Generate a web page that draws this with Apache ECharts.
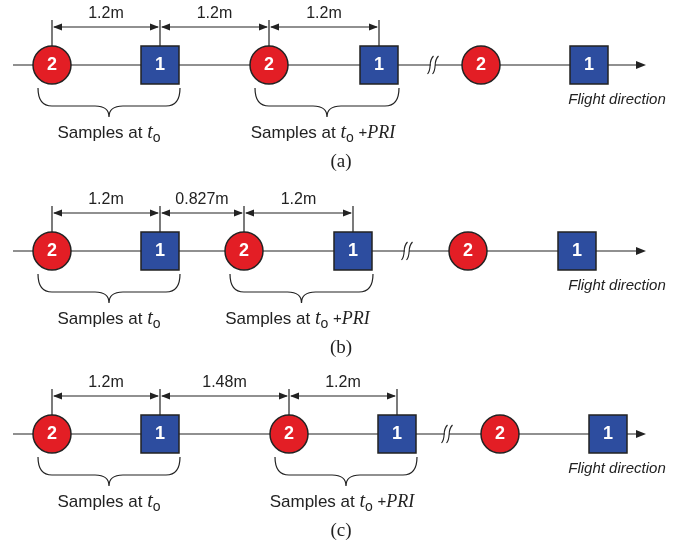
<!DOCTYPE html>
<html><head><meta charset="utf-8"><title>flight-samples</title>
<style>html,body{margin:0;background:#fff}#chart{width:687px;height:548px}</style>
</head><body>
<div id="chart"></div>
<script src="https://cdn.jsdelivr.net/npm/echarts@6/dist/echarts.min.js"></script>
<script>
const panelNames = ['(a)', '(b)', '(c)'];
const axisY = [65, 251, 434];
const circleX = [[52, 269, 481], [52, 244, 468], [52, 289, 500]];
const squareX = [[160, 379, 589], [160, 353, 577], [160, 397, 608]];
const breakX = [433, 407, 447];
const spacingLabels = [['1.2m', '1.2m', '1.2m'], ['1.2m', '0.827m', '1.2m'], ['1.2m', '1.48m', '1.2m']];
const groupLabels = ['Samples at {t|t}{o|o}', 'Samples at {t|t}{o|o} {p|+}{pri|PRI}'];
const directionLabel = 'Flight direction';

const ink = '#222';
const sans = '"Liberation Sans", Arial, sans-serif';
const serif = '"Liberation Serif", "Times New Roman", serif';

// series data built from the arrays above
const circles = [], squares = [], axes = [], dims = [], ticks = [], braces = [], breaks = [], texts = [];
panelNames.forEach((name, p) => {
  const y = axisY[p];
  circleX[p].forEach(x => circles.push([x, y]));
  squareX[p].forEach(x => squares.push([x, y]));
  axes.push([13, 646, y]);
  breaks.push([breakX[p], y]);
  const nodes = [circleX[p][0], squareX[p][0], circleX[p][1], squareX[p][1]];
  nodes.forEach(x => ticks.push([x, y - 45, y - 19]));
  for (let i = 0; i < 3; i++) {
    dims.push([nodes[i], nodes[i + 1], y - 38]);
    texts.push({ value: [(nodes[i] + nodes[i + 1]) / 2, y - 51], text: spacingLabels[p][i], kind: 'dim' });
  }
  for (let g = 0; g < 2; g++) {
    const x1 = circleX[p][g] - 14, x2 = squareX[p][g] + 20;
    braces.push([x1, x2, y + 23]);
    texts.push({ value: [(x1 + x2) / 2 - (g ? 4 : 0), y + 68], text: groupLabels[g], kind: 'group' });
  }
  texts.push({ value: [617, y + 35], text: directionLabel, kind: 'dir' });
  texts.push({ value: [341, y + 97], text: name, kind: 'panel' });
});

const textStyles = {
  dim: { fontSize: 16, fontFamily: sans },
  group: {
    fontSize: 17, fontFamily: sans, lineHeight: 24,
    rich: {
      t: { fontSize: 20, fontFamily: serif, fontStyle: 'italic', lineHeight: 24 },
      o: { fontSize: 14, fontFamily: sans, lineHeight: 12, verticalAlign: 'bottom' },
      p: { fontSize: 15, fontFamily: sans, lineHeight: 24 },
      pri: { fontSize: 18, fontFamily: serif, fontStyle: 'italic', lineHeight: 24 }
    }
  },
  dir: { fontSize: 15, fontFamily: sans, fontStyle: 'italic' },
  panel: { fontSize: 19, fontFamily: serif }
};

function renderAxis(params, api) {
  const a = api.coord([api.value(0), api.value(2)]);
  const b = api.coord([api.value(1), api.value(2)]);
  return { type: 'group', children: [
    { type: 'line', shape: { x1: a[0], y1: a[1], x2: b[0] - 6, y2: b[1] }, style: { stroke: ink, lineWidth: 1.2 } },
    { type: 'polygon', shape: { points: [[b[0], b[1]], [b[0] - 10, b[1] - 4], [b[0] - 10, b[1] + 4]] }, style: { fill: ink } }
  ] };
}

function renderDim(params, api) {
  const a = api.coord([api.value(0), api.value(2)]);
  const b = api.coord([api.value(1), api.value(2)]);
  const y = a[1];
  return { type: 'group', children: [
    { type: 'line', shape: { x1: a[0] + 2, y1: y, x2: b[0] - 2, y2: y }, style: { stroke: ink, lineWidth: 1.2 } },
    { type: 'polygon', shape: { points: [[a[0] + 1, y], [a[0] + 10, y - 3.5], [a[0] + 10, y + 3.5]] }, style: { fill: ink } },
    { type: 'polygon', shape: { points: [[b[0] - 1, y], [b[0] - 10, y - 3.5], [b[0] - 10, y + 3.5]] }, style: { fill: ink } }
  ] };
}

function renderTick(params, api) {
  const a = api.coord([api.value(0), api.value(1)]);
  const b = api.coord([api.value(0), api.value(2)]);
  return { type: 'line', shape: { x1: a[0], y1: a[1], x2: b[0], y2: b[1] }, style: { stroke: ink, lineWidth: 1.2 } };
}

function renderBrace(params, api) {
  const a = api.coord([api.value(0), api.value(2)]);
  const b = api.coord([api.value(1), api.value(2)]);
  const x1 = a[0], x2 = b[0], yT = a[1], yH = yT + 18, yC = yT + 29, xm = (x1 + x2) / 2, r = 14;
  const d = 'M' + x1 + ' ' + yT + ' Q' + x1 + ' ' + yH + ' ' + (x1 + r) + ' ' + yH +
    ' L' + (xm - r) + ' ' + yH + ' Q' + xm + ' ' + yH + ' ' + xm + ' ' + yC +
    ' Q' + xm + ' ' + yH + ' ' + (xm + r) + ' ' + yH +
    ' L' + (x2 - r) + ' ' + yH + ' Q' + x2 + ' ' + yH + ' ' + x2 + ' ' + yT;
  return { type: 'path', shape: { pathData: d }, style: { stroke: ink, lineWidth: 1.2, fill: null } };
}

function renderBreak(params, api) {
  const c = api.coord([api.value(0), api.value(1)]);
  const x = c[0], y = c[1];
  const stroke = dx => 'M' + (x + dx - 3) + ' ' + (y + 9) + ' C' + (x + dx + 2) + ' ' + (y + 3) + ' ' +
    (x + dx - 3) + ' ' + (y - 3) + ' ' + (x + dx + 3) + ' ' + (y - 9);
  return { type: 'group', children: [
    { type: 'rect', shape: { x: x - 2, y: y - 2, width: 4, height: 4 }, style: { fill: '#fff' } },
    { type: 'path', shape: { pathData: stroke(-2.5) }, style: { stroke: ink, lineWidth: 1.1, fill: null } },
    { type: 'path', shape: { pathData: stroke(2.5) }, style: { stroke: ink, lineWidth: 1.1, fill: null } }
  ] };
}

function renderText(params, api) {
  const item = texts[params.dataIndex];
  const c = api.coord(item.value);
  return { type: 'text', x: c[0], y: c[1],
    style: Object.assign({ text: item.text, fill: ink, align: 'center', verticalAlign: 'middle' }, textStyles[item.kind]) };
}

const chart = echarts.init(document.getElementById('chart'));
chart.setOption({
  animation: false,
  backgroundColor: '#fff',
  grid: { left: 0, right: 0, top: 0, bottom: 0 },
  xAxis: { type: 'value', min: 0, max: 687, show: false },
  yAxis: { type: 'value', min: 0, max: 548, inverse: true, show: false },
  series: [
    { type: 'custom', renderItem: renderAxis, data: axes, z: 1 },
    { type: 'custom', renderItem: renderBreak, data: breaks, z: 2 },
    { type: 'custom', renderItem: renderDim, data: dims, z: 2 },
    { type: 'custom', renderItem: renderTick, data: ticks, z: 2 },
    { type: 'custom', renderItem: renderBrace, data: braces, z: 2 },
    { type: 'custom', renderItem: renderText, data: texts.map(t => t.value), z: 3 },
    {
      type: 'scatter', data: circles, symbol: 'circle', symbolSize: 38, z: 4,
      itemStyle: { color: '#e31e25', borderColor: ink, borderWidth: 1.5, opacity: 1 },
      label: { show: true, position: 'inside', formatter: '2', color: '#fff', fontSize: 18, fontWeight: 'bold', fontFamily: sans }
    },
    {
      type: 'scatter', data: squares, symbol: 'rect', symbolSize: 38, z: 4,
      itemStyle: { color: '#2d4d9f', borderColor: ink, borderWidth: 1.5, opacity: 1 },
      label: { show: true, position: 'inside', formatter: '1', color: '#fff', fontSize: 18, fontWeight: 'bold', fontFamily: sans }
    }
  ]
});
</script>
</body></html>
